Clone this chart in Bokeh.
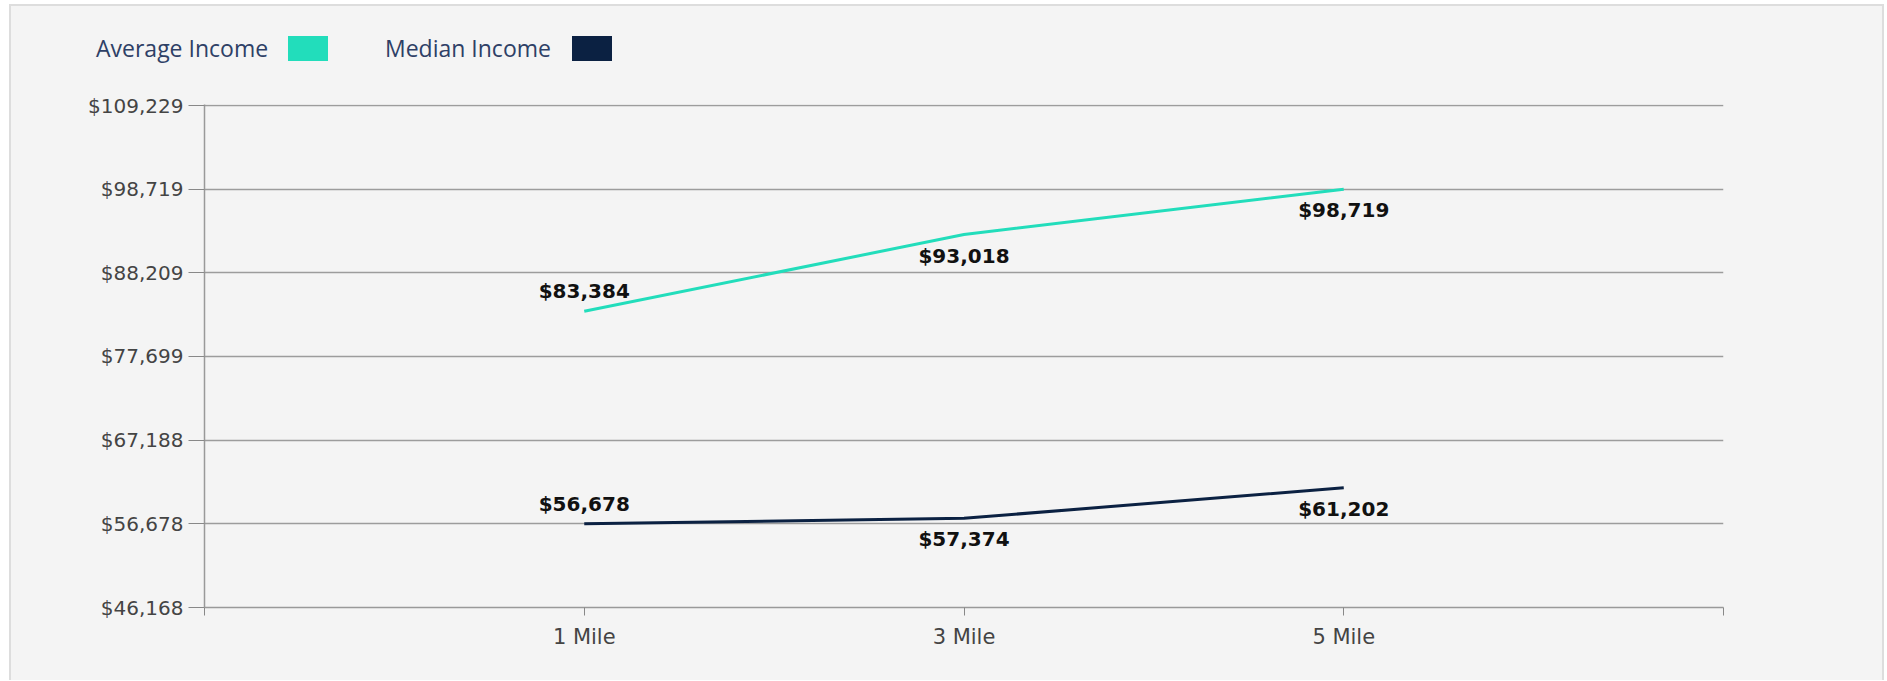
from bokeh.plotting import figure
from bokeh.layouts import column
from bokeh.models import ColumnDataSource, Range1d, FixedTicker, NumeralTickFormatter, Div
from bokeh.core.properties import value
from bokeh.embed import file_html
from bokeh.resources import INLINE

# ---- data ----
categories = ["1 Mile", "3 Mile", "5 Mile"]
average_income = [83384, 93018, 98719]
median_income = [56678, 57374, 61202]
y_ticks = [46168, 56678, 67188, 77699, 88209, 98719, 109229]
series_names = ["Average Income", "Median Income"]
series_colors = ["#22DDBB", "#0B2142"]

# label placement style (pixels, positive = below the point)
label_offsets = [-20, 21, 21]

BG = "#f4f4f4"
W = 1871
LEG_H = 78                    # height of the legend strip
H = 596                       # height of the chart
FW, FH = 1519, 503
ML, MT = 193, 20

# ---------------- legend strip: name, then colour swatch ----------------
legend_text_left = [85, 374]
legend_swatch_left = [277, 561]
parts = []
for name, color, tl, sl in zip(series_names, series_colors, legend_text_left, legend_swatch_left):
    parts.append(
        f'<span style="position:absolute;left:{tl}px;top:29px;height:27px;line-height:27px;'
        f'font-family:\'Open Sans\';font-size:23px;color:#2E4066;white-space:nowrap">{name}</span>'
        f'<span style="position:absolute;left:{sl}px;top:30px;width:40px;height:25px;'
        f'background:{color}"></span>')
legend_div = Div(text=f'<div style="position:relative;width:{W}px;height:{LEG_H}px">'
                      + "".join(parts) + "</div>",
                 width=W, height=LEG_H, margin=0,
                 styles={"background-color": BG})

# ---------------- chart ----------------
x_start, x_end = 0, len(categories) + 1
y_start = y_ticks[0]
y_end = y_ticks[-1] + (y_ticks[-1] - y_ticks[0]) * 0.002

p = figure(width=W, height=H, output_backend="svg", toolbar_location=None,
           x_range=Range1d(x_start, x_end),
           y_range=Range1d(y_start, y_end),
           min_border_left=ML, min_border_top=MT,
           min_border_right=W - ML - FW, min_border_bottom=H - MT - FH,
           background_fill_color=BG, border_fill_color=BG,
           outline_line_color=None)

xs = list(range(1, len(categories) + 1))

p.xaxis.ticker = FixedTicker(ticks=[x_start] + xs + [x_end])
p.xaxis.major_label_overrides = {x_start: "", x_end: "", **{x: c for x, c in zip(xs, categories)}}
p.xaxis.major_tick_out = 8
p.xaxis.major_tick_in = 0
p.xaxis.minor_tick_line_color = None
p.xaxis.axis_line_color = "#999999"
p.xaxis.axis_line_width = 1.5
p.xaxis.major_tick_line_color = "#888888"
p.xaxis.major_label_text_font = "DejaVu Sans"
p.xaxis.major_label_text_font_size = "21px"
p.xaxis.major_label_text_color = "#444444"
p.xaxis.major_label_standoff = 9

p.yaxis.ticker = FixedTicker(ticks=y_ticks)
p.yaxis.formatter = NumeralTickFormatter(format="$0,0")
p.yaxis.major_tick_out = 16
p.yaxis.major_tick_in = 0
p.yaxis.minor_tick_line_color = None
p.yaxis.axis_line_color = "#999999"
p.yaxis.axis_line_width = 1.5
p.yaxis.major_tick_line_color = "#888888"
p.yaxis.major_label_text_font = "DejaVu Sans"
p.yaxis.major_label_text_font_size = "20px"
p.yaxis.major_label_text_color = "#444444"
p.yaxis.major_label_standoff = 5

p.xgrid.grid_line_color = None
p.ygrid.grid_line_color = "#9c9c9c"
p.ygrid.grid_line_width = 1.5

for vals, color in zip([average_income, median_income], series_colors):
    p.line(xs, vals, line_color=color, line_width=3)
    src = ColumnDataSource(dict(x=xs, y=vals, t=[f"${v:,}" for v in vals], off=label_offsets))
    p.text(x="x", y="y", text="t", y_offset="off", source=src,
           text_font=value("DejaVu Sans"), text_font_style="bold",
           text_font_size="20px", text_color="#111111",
           text_align="center", text_baseline="middle")

layout = column(legend_div, p, spacing=0,
                styles={"margin-left": "9px", "margin-top": "4px",
                        "border-top": "2px solid #dddddd", "border-left": "2px solid #dddddd",
                        "border-right": "2px solid #dddddd", "background-color": BG})

open("out.html", "w").write(file_html(layout, INLINE))
